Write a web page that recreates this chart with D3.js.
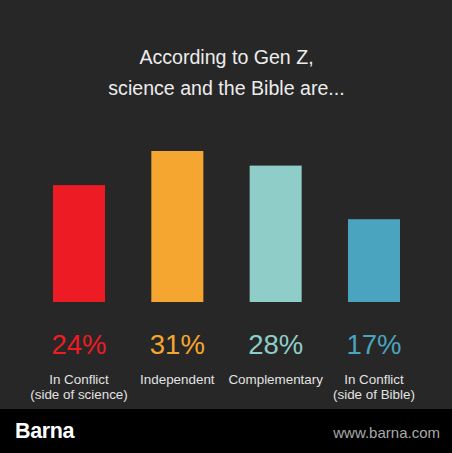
<!DOCTYPE html>
<html><head><meta charset="utf-8">
<script src="https://cdn.jsdelivr.net/npm/d3@7"></script>
<style>html,body{margin:0;padding:0;background:#272727;}svg{display:block;}</style>
</head><body>
<script>
const categories = ["In Conflict|(side of science)", "Independent", "Complementary", "In Conflict|(side of Bible)"];
const values = [24, 31, 28, 17];
const colors = ["#ed1c24", "#f5a630", "#8ecdc8", "#4aa3bf"];
const titleLines = ["According to Gen Z,", "science and the Bible are..."];

const W = 452, H = 453;
const svg = d3.select("body").append("svg").attr("width", W).attr("height", H);
svg.append("rect").attr("width", W).attr("height", H).attr("fill", "#272727");

const font = "'Liberation Sans', Arial, Helvetica, sans-serif";

svg.selectAll("text.title").data(titleLines).enter().append("text")
  .attr("class", "title")
  .attr("x", 226.5).attr("y", (d, i) => 63.5 + i * 31)
  .attr("text-anchor", "middle").attr("fill", "#ececec")
  .attr("font-family", font).attr("font-size", 19.6).text(d => d);

const x = d3.scaleBand().domain(d3.range(categories.length)).range([53, 400]).paddingInner(0.471).paddingOuter(0);
const y = d3.scaleLinear().domain([0, 31]).range([302, 151]);

svg.selectAll("rect.bar").data(values).enter().append("rect")
  .attr("class", "bar")
  .attr("x", (d, i) => x(i)).attr("width", x.bandwidth())
  .attr("y", d => y(d)).attr("height", d => y(0) - y(d))
  .attr("fill", (d, i) => colors[i]);

svg.selectAll("text.pct").data(values).enter().append("text")
  .attr("class", "pct")
  .attr("x", (d, i) => x(i) + x.bandwidth() / 2).attr("y", 353.5)
  .attr("text-anchor", "middle").attr("fill", (d, i) => colors[i])
  .attr("font-family", font).attr("font-size", 27.5).text(d => d + "%");

categories.forEach((c, i) => {
  const lines = c.split("|");
  const cx = x(i) + x.bandwidth() / 2;
  const t = svg.append("text")
    .attr("x", cx).attr("y", 384)
    .attr("text-anchor", "middle").attr("fill", "#e2e2e2")
    .attr("font-family", font).attr("font-size", 13.4);
  lines.forEach((l, j) => {
    t.append("tspan").attr("x", cx).attr("dy", j === 0 ? 0 : 15).text(l);
  });
});

svg.append("rect").attr("x", 0).attr("y", 409).attr("width", W).attr("height", H - 409).attr("fill", "#000");
svg.append("text").attr("x", 15).attr("y", 438).attr("fill", "#ffffff")
  .attr("font-family", font).attr("font-weight", "bold").attr("font-size", 21.5)
  .attr("letter-spacing", -0.4).text("Barna");
svg.append("text").attr("x", 440).attr("y", 437.5).attr("text-anchor", "end").attr("fill", "#a8a8a8")
  .attr("font-family", font).attr("font-size", 15).text("www.barna.com");
</script>
</body></html>
